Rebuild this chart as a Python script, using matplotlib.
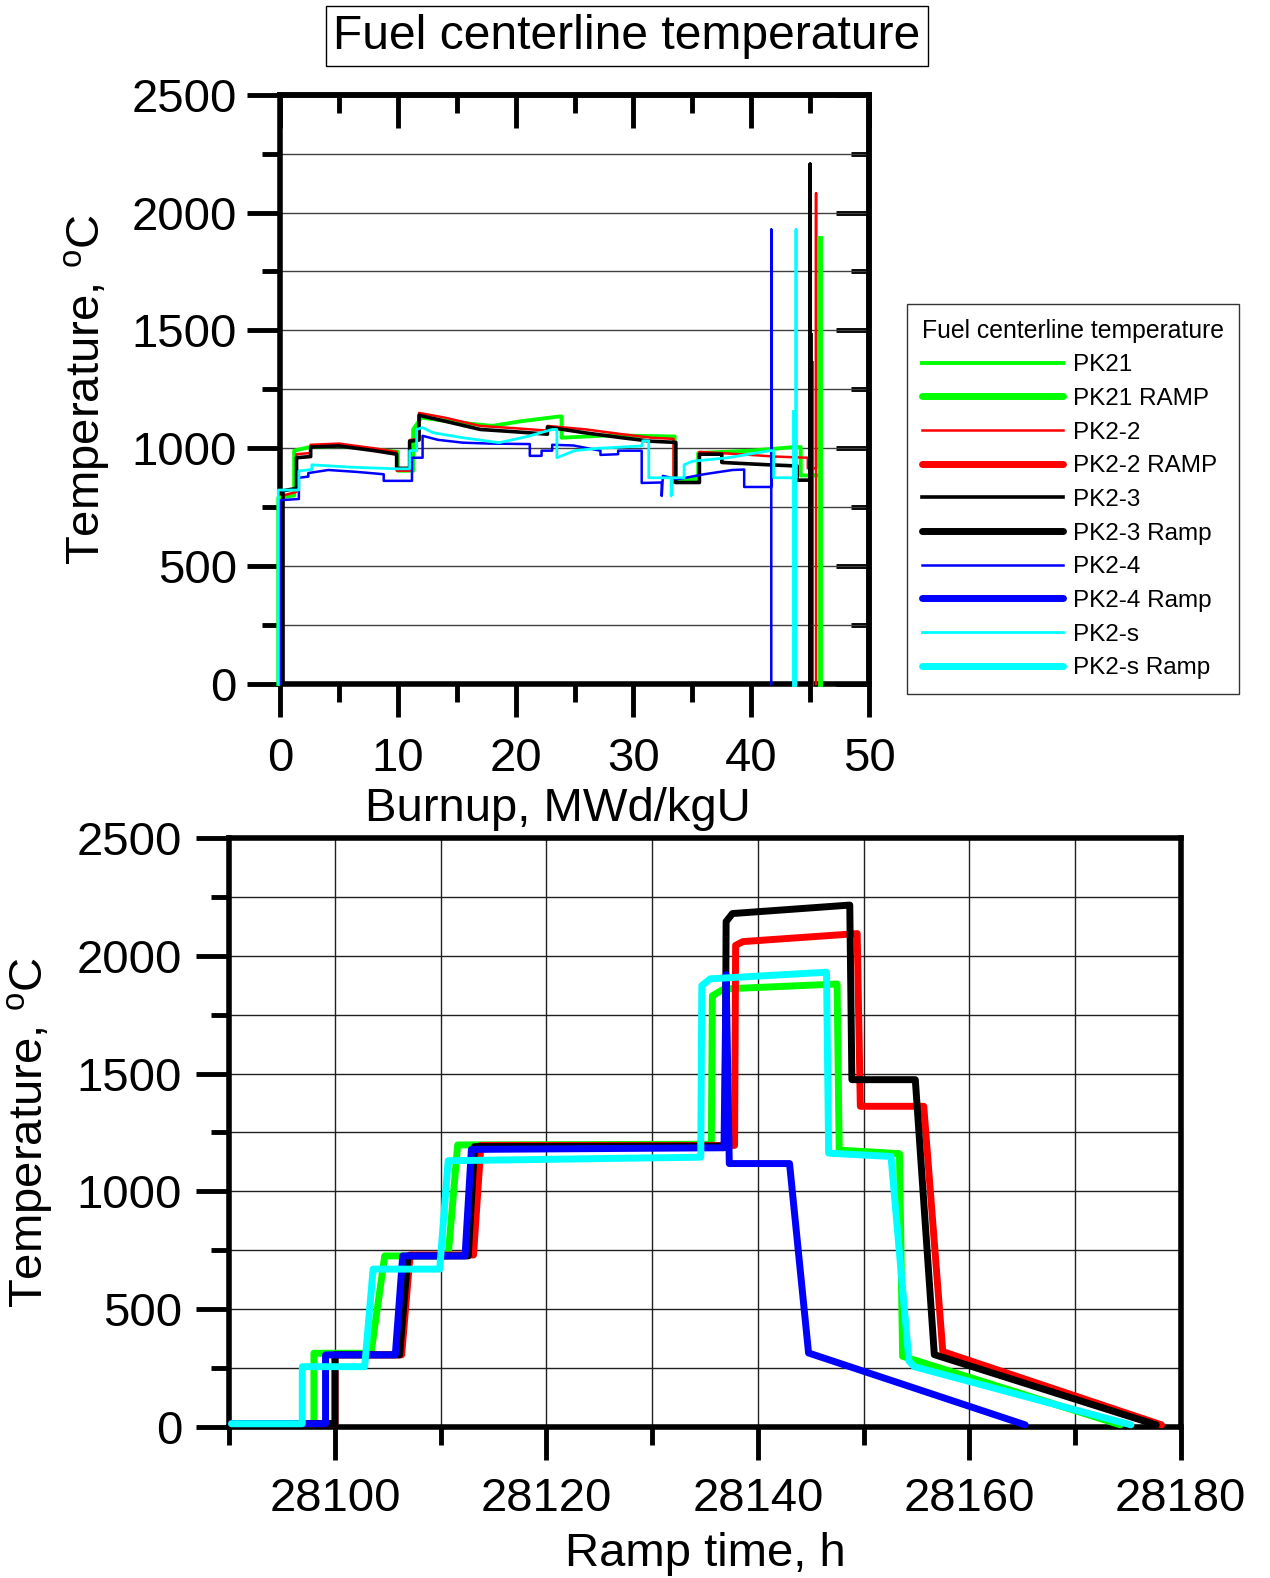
import matplotlib
matplotlib.use("Agg")
import matplotlib.pyplot as plt
from matplotlib.ticker import MultipleLocator

plt.rcParams['font.family'] = ['Liberation Sans', 'DejaVu Sans']
plt.rcParams['mathtext.fontset'] = 'custom'
plt.rcParams['mathtext.rm'] = 'Liberation Sans'
plt.rcParams['mathtext.it'] = 'Liberation Sans:italic'

# ---- burnup histories (top panel) ----
pk21_bu = [-0.15, -0.15, 1.2, 1.2, 2.5, 5, 8, 10.0, 10.0, 11.3, 11.3, 12.0, 15, 18, 20.5, 23.7,
           23.9, 23.9, 28, 33.5, 33.5, 35.5, 35.5, 40, 43.6, 44.2, 44.2, 45.8]
pk21_t = [0, 790, 800, 990, 1005, 1010, 995, 985, 905, 905, 1080, 1130, 1110, 1095, 1115, 1135,
          1135, 1045, 1055, 1050, 870, 870, 980, 990, 1005, 1005, 885, 885]

pk22_bu = [0.25, 0.25, 1.4, 1.4, 2.6, 2.6, 5, 8, 9.9, 9.9, 11.0, 11.0, 11.8, 11.8, 14, 17, 20,
           22.7, 22.7, 26, 29, 31.5, 33.4, 33.4, 35.6, 35.6, 39, 42, 44.8, 44.8, 45.5, 45.5, 45.5]
pk22_t = [0, 800, 815, 975, 980, 1015, 1020, 1000, 985, 905, 905, 1035, 1040, 1150, 1130, 1095,
          1085, 1075, 1095, 1080, 1060, 1045, 1040, 855, 855, 985, 975, 965, 960, 915, 915, 2082, 0]

pk23_bu = [0.25, 0.25, 1.4, 1.4, 2.6, 2.6, 5, 8, 9.9, 9.9, 11.0, 11.0, 11.8, 11.8, 14, 17, 20,
           22.7, 22.7, 26, 29, 31.5, 33.6, 33.6, 35.6, 35.6, 37.5, 37.5, 41.5, 43.9, 43.9, 45.0,
           45.0, 45.0]
pk23_t = [0, 820, 830, 960, 965, 1005, 1010, 990, 975, 915, 915, 1030, 1035, 1140, 1115, 1080,
          1070, 1060, 1090, 1065, 1045, 1030, 1025, 855, 855, 975, 975, 940, 930, 925, 865, 865,
          2205, 0]

pk24_bu = [0.05, 0.05, 1.6, 1.6, 2.4, 2.4, 4.1, 6.5, 8.8, 8.8, 11.2, 11.2, 12.1, 12.1, 13.4,
           15.5, 17.8, 21.2, 21.2, 22.2, 22.2, 23.1, 23.1, 24.9, 27.2, 27.2, 28.7, 28.7, 30.7,
           30.7, 32.4, 32.4, 32.5, 33.6, 33.9, 36, 38.4, 39.4, 39.4, 41.7, 41.7, 41.7]
pk24_t = [0, 780, 785, 875, 880, 895, 908, 900, 890, 862, 862, 960, 960, 1053, 1036, 1024, 1020,
          1018, 968, 968, 990, 990, 1015, 1012, 990, 972, 975, 990, 990, 853, 855, 798, 883, 870,
          870, 890, 908, 910, 836, 836, 1928, 0]

pk2s_bu = [-0.15, -0.15, 1.6, 1.6, 2.7, 2.7, 6, 9.9, 11.0, 11.0, 11.6, 11.6, 12.1, 13, 15.5,
           18.6, 21, 23.1, 23.5, 23.5, 25, 27, 30.7, 30.8, 31.3, 31.3, 33.2, 33.2, 33.3, 34.3,
           34.3, 35, 38, 41.6, 41.9, 41.9, 43.8, 43.8, 43.8]
pk2s_t = [0, 823, 823, 904, 910, 930, 920, 913, 913, 990, 990, 1080, 1088, 1066, 1045, 1024,
          1050, 1080, 1080, 960, 990, 1000, 1010, 1032, 1032, 875, 875, 798, 875, 875, 930, 945,
          960, 990, 990, 875, 875, 1928, 0]

# ramp segments seen in the burnup panel
pk21_ramp_bu = [45.8, 45.8]
pk21_ramp_t = [0, 1890]
pk22_ramp_bu = [45.1, 45.1]
pk22_ramp_t = [0, 1360]
pk23_ramp_bu = [45.0, 45.0]
pk23_ramp_t = [0, 1480]
pk2s_ramp_bu = [43.6, 43.6]
pk2s_ramp_t = [0, 1152]

# ---- ramp tests (bottom panel) ----
r21_h = [28090.2, 28098.0, 28098.0, 28103.4, 28104.7, 28110.7, 28111.6, 28135.6, 28135.7,
         28136.8, 28147.5, 28147.7, 28153.4, 28153.7, 28174.3]
r21_t = [14, 14, 313, 313, 726, 726, 1197, 1200, 1830, 1859, 1880, 1175, 1160, 300, 9]

r22_h = [28090.2, 28100.0, 28100.0, 28106.3, 28107.1, 28113.1, 28113.8, 28137.8, 28137.9,
         28138.6, 28149.4, 28149.7, 28155.7, 28157.5, 28178.2]
r22_t = [14, 14, 306, 306, 730, 730, 1195, 1195, 2044, 2060, 2094, 1361, 1361, 320, 9]

r23_h = [28090.2, 28100.0, 28100.0, 28106.1, 28106.9, 28112.6, 28113.2, 28136.9, 28137.0,
         28137.6, 28148.7, 28148.9, 28154.9, 28156.7, 28177.7]
r23_t = [14, 14, 306, 306, 726, 726, 1190, 1192, 2145, 2179, 2215, 1474, 1474, 307, 9]

r24_h = [28090.2, 28099.1, 28099.1, 28105.7, 28106.4, 28112.3, 28112.9, 28136.8, 28137.0,
         28137.3, 28143.0, 28144.8, 28165.3]
r24_t = [14, 14, 306, 306, 726, 726, 1178, 1185, 1920, 1118, 1118, 314, 9]

r2s_h = [28090.2, 28096.9, 28096.9, 28102.8, 28103.6, 28109.9, 28110.7, 28134.6, 28134.7,
         28135.5, 28146.5, 28146.7, 28152.6, 28154.3, 28154.8, 28175.3]
r2s_t = [14, 14, 256, 256, 670, 670, 1130, 1145, 1873, 1902, 1930, 1162, 1148, 280, 256, 9]

labels = ['PK21', 'PK21 RAMP', 'PK2-2', 'PK2-2 RAMP', 'PK2-3', 'PK2-3 Ramp',
          'PK2-4', 'PK2-4 Ramp', 'PK2-s', 'PK2-s Ramp']
colors = ['#00ff00', '#ff0000', '#000000', '#0000ff', '#00ffff']

fig = plt.figure(figsize=(12.7, 15.78), dpi=100)
ax1 = fig.add_axes([0.2205, 0.5665, 0.4638, 0.3735])
ax2 = fig.add_axes([0.1806, 0.0957, 0.7490, 0.3733])

# top panel
hist = [(pk21_bu, pk21_t, 2.8), (pk22_bu, pk22_t, 1.8), (pk23_bu, pk23_t, 2.6),
        (pk24_bu, pk24_t, 1.8), (pk2s_bu, pk2s_t, 2.0)]
thin = []
for (x, y, lw), c in zip(hist, colors):
    ln, = ax1.plot(x, y, color=c, lw=lw, clip_on=False, zorder=3)
    thin.append(ln)
for x, y, c in [(pk21_ramp_bu, pk21_ramp_t, colors[0]), (pk22_ramp_bu, pk22_ramp_t, colors[1]),
                (pk23_ramp_bu, pk23_ramp_t, colors[2]), (pk2s_ramp_bu, pk2s_ramp_t, colors[4])]:
    ax1.plot(x, y, color=c, lw=3.5, clip_on=False, zorder=3)

ax1.set_xlim(0, 50)
ax1.set_ylim(0, 2500)
ax1.xaxis.set_major_locator(MultipleLocator(10))
ax1.xaxis.set_minor_locator(MultipleLocator(5))
ax1.yaxis.set_major_locator(MultipleLocator(500))
ax1.yaxis.set_minor_locator(MultipleLocator(250))
ax1.yaxis.grid(True, which='both', color='#404040', lw=1.0)
ax1.set_axisbelow(True)
ax1.tick_params(which='major', direction='out', length=24, width=3.5, labelsize=34)
ax1.tick_params(which='minor', direction='out', length=13, width=3.5)
ax1.tick_params(axis='x', pad=14)
ax1.tick_params(axis='y', pad=7)
for s in ax1.spines.values():
    s.set_linewidth(4)

sx = ax1.secondary_xaxis('top')
sx.xaxis.set_major_locator(MultipleLocator(10))
sx.xaxis.set_minor_locator(MultipleLocator(5))
sx.tick_params(which='major', direction='in', length=24, width=3.5, labeltop=False)
sx.tick_params(which='minor', direction='in', length=13, width=3.5)
sx.spines['top'].set_linewidth(4)
sy = ax1.secondary_yaxis('right')
sy.yaxis.set_major_locator(MultipleLocator(500))
sy.yaxis.set_minor_locator(MultipleLocator(250))
sy.tick_params(which='major', direction='in', length=24, width=3.5, labelright=False)
sy.tick_params(which='minor', direction='in', length=13, width=3.5)
sy.spines['right'].set_linewidth(4)

ax1.set_xlabel('Burnup, MWd/kgU', fontsize=34, labelpad=2)
ax1.xaxis.set_label_coords(0.472, -0.175)
ax1.set_ylabel('Temperature, $^{\\mathrm{o}}$C', fontsize=34, labelpad=14)

# bottom panel
thick = []
for (x, y), c in zip([(r21_h, r21_t), (r22_h, r22_t), (r23_h, r23_t), (r24_h, r24_t),
                      (r2s_h, r2s_t)], colors):
    ln, = ax2.plot(x, y, color=c, lw=5, clip_on=False, zorder=3,
                   solid_capstyle='round', solid_joinstyle='round')
    thick.append(ln)

ax2.set_xlim(28090, 28180)
ax2.set_ylim(0, 2500)
ax2.xaxis.set_major_locator(MultipleLocator(20))
ax2.xaxis.set_minor_locator(MultipleLocator(10))
ax2.yaxis.set_major_locator(MultipleLocator(500))
ax2.yaxis.set_minor_locator(MultipleLocator(250))
ax2.grid(True, which='both', color='#202020', lw=1.0)
ax2.set_axisbelow(True)
ax2.tick_params(which='major', direction='out', length=24, width=3.5, labelsize=34)
ax2.tick_params(which='minor', direction='out', length=13, width=3.5)
ax2.tick_params(axis='x', pad=12)
ax2.tick_params(axis='y', pad=10)
for s in ax2.spines.values():
    s.set_linewidth(4)
ax2.set_xlabel('Ramp time, h', fontsize=34, labelpad=8)
ax2.set_ylabel('Temperature, $^{\\mathrm{o}}$C', fontsize=34, labelpad=16)

handles = []
for a, b in zip(thin, thick):
    handles += [a, b]
leg = fig.legend(handles, labels, title='Fuel centerline temperature', loc='upper left',
                 bbox_to_anchor=(0.7145, 0.8074), fontsize=17.5, title_fontsize=17.8,
                 frameon=True, fancybox=False, edgecolor='#333333', framealpha=1,
                 handlelength=5.8, handletextpad=0.4, labelspacing=0.48, borderpad=0.6,
                 borderaxespad=0, alignment='left')
leg.get_frame().set_linewidth(1.0)

fig.text(0.4937, 0.977, 'Fuel centerline temperature', ha='center', va='center', fontsize=34.6,
         bbox=dict(boxstyle='square,pad=0.16', fc='white', ec='black', lw=1.0))

fig.savefig('out.png', dpi=100)
